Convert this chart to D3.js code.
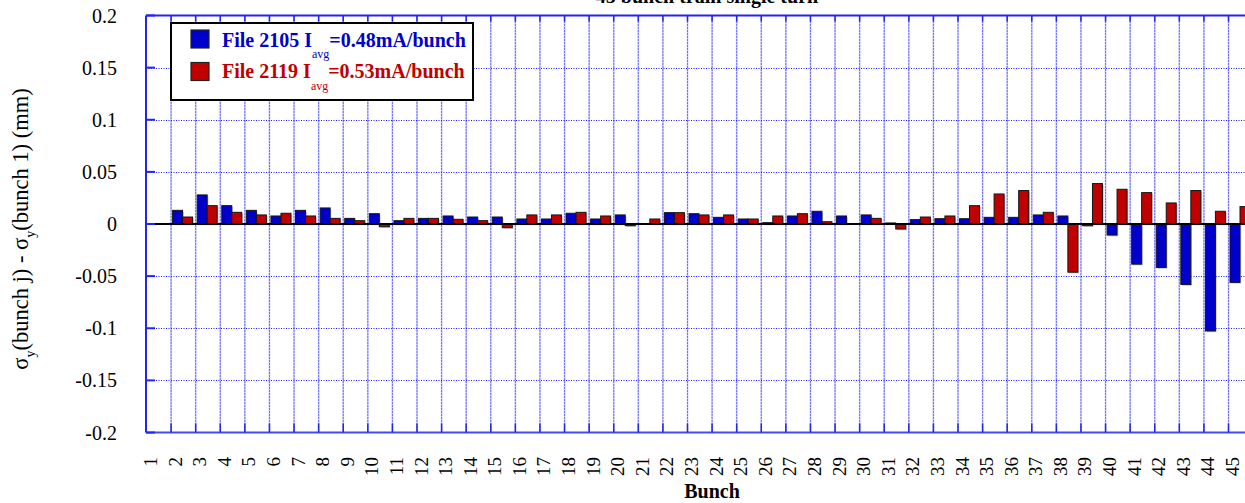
<!DOCTYPE html>
<html>
<head>
<meta charset="utf-8">
<script src="https://cdn.jsdelivr.net/npm/d3@7"></script>
<style>
  body { margin: 0; background: #fff; }
  svg { display: block; }
  text { font-family: "Liberation Serif", "Times New Roman", serif; }
</style>
</head>
<body>
<div id="chart"></div>
<script>
// bunch numbers along the x axis
var bunches = d3.range(1, 46);

// sigma_y(bunch j) - sigma_y(bunch 1), mm
var file2105 = [0, 0.0131, 0.0279, 0.0176, 0.0131, 0.0077, 0.0131, 0.0154, 0.0054, 0.0099,
  0.0032, 0.0054, 0.0077, 0.0067, 0.0067, 0.0048, 0.0048, 0.0103, 0.0048, 0.0087,
  0, 0.0109, 0.0099, 0.0064, 0.0048, 0.0013, 0.0077, 0.0122, 0.0077, 0.0087,
  0.001, 0.0042, 0.0051, 0.0051, 0.0064, 0.0064, 0.0087, 0.0077, -0.0016, -0.0106,
  -0.0385, -0.0417, -0.058, -0.1026, -0.056];
var file2119 = [0, 0.0067, 0.0176, 0.0112, 0.0087, 0.0103, 0.0077, 0.0054, 0.0032, -0.0026,
  0.0054, 0.0054, 0.0045, 0.0032, -0.0035, 0.0087, 0.0087, 0.0112, 0.0077, -0.0016,
  0.0048, 0.0109, 0.0087, 0.0087, 0.0048, 0.0077, 0.0099, 0.0022, 0, 0.0054,
  -0.0048, 0.0067, 0.0077, 0.0176, 0.0288, 0.0321, 0.0112, -0.0462, 0.0388, 0.0333,
  0.0301, 0.0202, 0.0321, 0.0122, 0.0167];

var yTicks = [0.2, 0.15, 0.1, 0.05, 0, -0.05, -0.1, -0.15, -0.2];
var seriesNames = ["File 2105", "File 2119"];
var seriesCurrents = ["=0.48mA/bunch", "=0.53mA/bunch"];

var W = 1245, H = 503;
var pLeft = 146, pRight = 1252.6, pTop = 15.5, pBottom = 432.5;

var blue = "#0000cc", red = "#c00000", axisBlue = "#2424f0";

var svg = d3.select("#chart")
  .append("svg")
    .attr("width", W)
    .attr("height", H);

var x = d3.scaleBand()
  .domain(bunches)
  .range([pLeft, pRight])
  .padding(0);

var xSub = d3.scaleBand()
  .domain([0, 1])
  .range([2, x.bandwidth() - 2.6])
  .padding(0);

var y = d3.scaleLinear()
  .domain([-0.2, 0.2])
  .range([pBottom, pTop]);

// grid
var grid = svg.append("g");
grid.selectAll(".vgrid")
  .data(bunches.slice(1))
  .enter()
  .append("line")
    .attr("x1", function(d) { return x(d) + 0.5; })
    .attr("x2", function(d) { return x(d) + 0.5; })
    .attr("y1", pTop)
    .attr("y2", pBottom)
    .attr("stroke", "#c4c4fa")
    .attr("stroke-width", 1.6);
grid.selectAll(".vgrid2")
  .data(bunches.slice(1))
  .enter()
  .append("line")
    .attr("x1", function(d) { return x(d) + 0.5; })
    .attr("x2", function(d) { return x(d) + 0.5; })
    .attr("y1", pTop)
    .attr("y2", pBottom)
    .attr("stroke", "#1a1aff")
    .attr("stroke-width", 1)
    .attr("stroke-dasharray", "1,2");
grid.selectAll(".hgrid")
  .data(yTicks.filter(function(d) { return d != 0 && Math.abs(d) < 0.2; }))
  .enter()
  .append("line")
    .attr("x1", pLeft)
    .attr("x2", pRight)
    .attr("y1", function(d) { return Math.round(y(d)) + 0.5; })
    .attr("y2", function(d) { return Math.round(y(d)) + 0.5; })
    .attr("stroke", "#1a1aff")
    .attr("stroke-width", 1)
    .attr("stroke-dasharray", "1,1.5");

// bars
var rows = bunches.map(function(b, i) { return {b: b, v: [file2105[i], file2119[i]]}; });
var colors = [blue, red];

var groups = svg.append("g").selectAll("g")
  .data(rows)
  .enter()
  .append("g")
    .attr("transform", function(d) { return "translate(" + x(d.b) + ",0)"; });

[0, 1].forEach(function(k) {
  groups.filter(function(d) { return d.v[k] != 0; })
    .append("rect")
      .attr("x", xSub(k) + 1.2)
      .attr("y", function(d) { return Math.min(y(d.v[k]), y(0)) + 1.2; })
      .attr("width", xSub.bandwidth())
      .attr("height", function(d) { return Math.abs(y(d.v[k]) - y(0)); })
      .attr("fill", "#a8a8a8")
      .attr("opacity", 0.7);
  groups.filter(function(d) { return d.v[k] != 0; })
    .append("rect")
      .attr("x", xSub(k))
      .attr("y", function(d) { return Math.min(y(d.v[k]), y(0)); })
      .attr("width", xSub.bandwidth())
      .attr("height", function(d) { return Math.abs(y(d.v[k]) - y(0)); })
      .attr("fill", colors[k])
      .attr("stroke", "#151515")
      .attr("stroke-width", 1);
});

// zero line
svg.append("line")
  .attr("x1", pLeft + 7)
  .attr("x2", pRight)
  .attr("y1", y(0))
  .attr("y2", y(0))
  .attr("stroke", "#000")
  .attr("stroke-width", 2);

// axes frame
svg.append("line").attr("x1", pLeft).attr("x2", pLeft).attr("y1", pTop).attr("y2", pBottom)
  .attr("stroke", axisBlue).attr("stroke-width", 2);
svg.append("line").attr("x1", pLeft).attr("x2", pRight).attr("y1", pTop).attr("y2", pTop)
  .attr("stroke", axisBlue).attr("stroke-width", 2);
svg.append("line").attr("x1", pLeft).attr("x2", pRight).attr("y1", pBottom).attr("y2", pBottom)
  .attr("stroke", "#4a4ae8").attr("stroke-width", 2);

// ticks
svg.selectAll(".ytick")
  .data(yTicks)
  .enter()
  .append("line")
    .attr("x1", pLeft)
    .attr("x2", pLeft + 9)
    .attr("y1", function(d) { return y(d); })
    .attr("y2", function(d) { return y(d); })
    .attr("stroke", axisBlue)
    .attr("stroke-width", 2);
svg.selectAll(".xtickb")
  .data(bunches.slice(1))
  .enter()
  .append("line")
    .attr("x1", function(d) { return x(d) + 0.5; })
    .attr("x2", function(d) { return x(d) + 0.5; })
    .attr("y1", pBottom)
    .attr("y2", pBottom - 9)
    .attr("stroke", axisBlue)
    .attr("stroke-width", 1.5);
svg.selectAll(".xtickt")
  .data(bunches.slice(1))
  .enter()
  .append("line")
    .attr("x1", function(d) { return x(d) + 0.5; })
    .attr("x2", function(d) { return x(d) + 0.5; })
    .attr("y1", pTop)
    .attr("y2", pTop + 6)
    .attr("stroke", axisBlue)
    .attr("stroke-width", 1.5);

// y tick labels
svg.selectAll(".ylab")
  .data(yTicks)
  .enter()
  .append("text")
    .attr("x", 117)
    .attr("y", function(d) { return y(d); })
    .attr("dy", "0.35em")
    .attr("text-anchor", "end")
    .style("font-size", "20px")
    .text(function(d) { return d; });

// x tick labels, rotated
svg.selectAll(".xlab")
  .data(bunches)
  .enter()
  .append("text")
    .attr("transform", function(d) { return "translate(" + (x(d) + 11) + ",457) rotate(-90)"; })
    .attr("text-anchor", "end")
    .style("font-size", "19px")
    .text(function(d) { return d; });

// axis titles
svg.append("text")
  .attr("x", 712)
  .attr("y", 498)
  .attr("text-anchor", "middle")
  .style("font-size", "20px")
  .style("font-weight", "bold")
  .text("Bunch");

var yt = svg.append("text")
  .attr("transform", "translate(28,229) rotate(-90)")
  .attr("text-anchor", "middle")
  .style("font-size", "22.5px");
yt.append("tspan").text("σ");
yt.append("tspan").attr("dy", 7).style("font-size", "14px").text("y");
yt.append("tspan").attr("dy", -7).text("(bunch j) - σ");
yt.append("tspan").attr("dy", 7).style("font-size", "14px").text("y");
yt.append("tspan").attr("dy", -7).text("(bunch 1) (mm)");

// title, mostly cut off by the top edge
svg.append("text")
  .attr("x", 707)
  .attr("y", 3)
  .attr("text-anchor", "middle")
  .style("font-size", "20px")
  .style("font-weight", "bold")
  .text("45 bunch train single turn");

// legend
var lg = svg.append("g");
lg.append("rect")
  .attr("x", 171)
  .attr("y", 23)
  .attr("width", 302)
  .attr("height", 77)
  .attr("fill", "#fff")
  .attr("stroke", "#000")
  .attr("stroke-width", 2);

seriesNames.forEach(function(name, i) {
  var cy = 30 + i * 32.5;
  lg.append("rect")
    .attr("x", 191)
    .attr("y", cy)
    .attr("width", 18)
    .attr("height", 18)
    .attr("fill", colors[i])
    .attr("stroke", "#222")
    .attr("stroke-width", 1.2);
  var t = lg.append("text")
    .attr("x", 222)
    .attr("y", 46.7 + i * 31.6)
    .attr("fill", colors[i])
    .style("font-size", "20px")
    .style("font-weight", "bold");
  t.append("tspan").text(name + " I");
  t.append("tspan").attr("dy", 11.5).style("font-size", "12px").style("font-weight", "normal").text("avg");
  t.append("tspan").attr("dy", -11.5).text(seriesCurrents[i]);
});
</script>
</body>
</html>
